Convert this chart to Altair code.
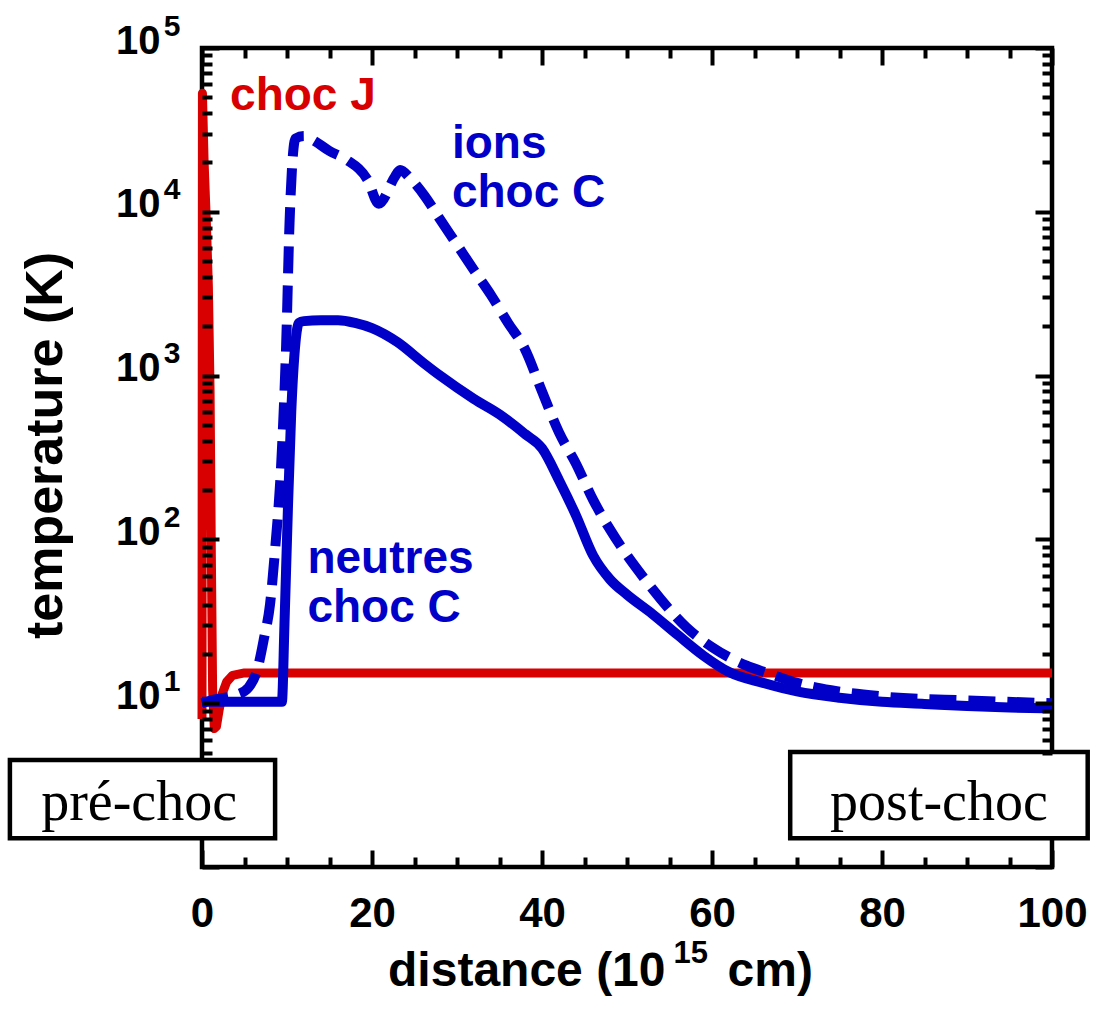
import altair as alt
import pandas as pd

RED = "#D80000"
BLUE = "#0000C8"
SANS = "Liberation Sans"
SERIF = "Liberation Serif"

# J-type shock: distance (1e15 cm) / temperature (K)
j_dist = [0, 0.05, 0.25, 0.5, 0.75, 0.95, 1.1, 1.25, 1.45, 1.7, 2.0, 2.4, 2.9, 3.6, 5.0, 100]
j_temp = [8, 53000, 20000, 9000, 3500, 800, 80, 12, 7, 7.2, 9, 11.5, 13.5, 14.8, 15.3, 15.3]

# C-type shock, neutral fluid
n_dist = [0, 9.4, 9.7, 10.1, 10.5, 11.0, 11.4, 12, 14, 16, 18, 20, 23, 26, 28, 32, 35, 38, 40,
          42, 44, 46, 48, 50, 53, 56, 59, 62, 66, 70, 75, 80, 85, 90, 95, 100]
n_temp = [10.2, 10.2, 30, 150, 600, 1600, 2100, 2150, 2180, 2180, 2100, 1950, 1600, 1200, 1000,
          720, 580, 440, 360, 230, 140, 80, 57, 46, 35, 26, 19.5, 15.5, 13.3, 11.8, 10.8, 10.2,
          9.9, 9.6, 9.4, 9.3]

# C-type shock, ion fluid
i_dist = [0, 1.3, 4.2, 5.5, 6.5, 7.3, 8.0, 8.6, 9.3, 9.9, 10.3, 11.0, 12, 13, 15, 17, 19.5,
          20.8, 22.7, 23.3, 24.5, 26.2, 28, 30, 32, 34, 36, 38, 40, 42, 44, 46, 48, 50, 52,
          54, 57, 60, 64, 67, 70, 74, 80, 90, 100]
i_temp = [10, 10.5, 11.3, 12.5, 16, 25, 40, 87, 277, 1540, 8600, 28000, 29000, 27500, 23500,
          20800, 15600, 11200, 16400, 18000, 16000, 12500, 9000, 6300, 4400, 3100, 2100, 1450,
          800, 450, 290, 175, 115, 80, 58, 43, 29, 22, 17, 15, 13.3, 12, 11, 10.4, 10]

# curve annotations (anchor = left end of the text baseline)
note_text = ["choc J", "ions", "choc C", "neutres", "choc C"]
note_dist = [3.3, 29.4, 29.4, 12.4, 12.4]
note_temp = [41800, 21300, 10700, 62, 31.3]
note_color = [RED, BLUE, BLUE, BLUE, BLUE]

# framed region labels
region_text = ["pré-choc", "post-choc"]
region_x1 = [-22.6, 69.2]
region_x2 = [8.6, 104.2]
region_t1 = [1.5, 1.5]
region_t2 = [4.5, 5.04]
region_xc = [-7.4, 86.7]
region_tb = [1.94, 1.94]

# axis ticks
x_major = [0, 20, 40, 60, 80, 100]
x_minor = [v for v in range(5, 100, 5) if v % 20]
y_major = [1, 10, 100, 1000, 10000, 100000]
y_labeled = [10, 100, 1000, 10000, 100000]
y_minor_all = [m * 10 ** k for k in range(0, 5) for m in range(2, 10)]
y_minor = [v for v in y_minor_all if v >= 5]  # the lowest ones sit under the region boxes

x_scale = alt.Scale(domain=[0, 100], nice=False, zero=False)
y_scale = alt.Scale(type="log", domain=[1, 100000], nice=False)


def curve_frame(d, t):
    return pd.DataFrame({"d": d, "t": t})


def xs(axis=None):
    return alt.X("d:Q", scale=x_scale, axis=axis)


def ys(axis=None):
    return alt.Y("t:Q", scale=y_scale, axis=axis)


def tick_axis(orient, values, length, **extra):
    return alt.Axis(orient=orient, values=values, offset=-length, tickSize=length,
                    tickWidth=4, tickColor="black", labels=False, domain=False,
                    grid=False, zindex=1, **extra)


TITLE_STYLE = dict(titleFont=SANS, titleFontWeight="bold", titleColor="black",
                   titleBaseline="alphabetic")

dummy = pd.DataFrame({"d": [50], "t": [10]})

# bottom axis: major ticks + labels, carries "distance (10"
x_bottom_major = alt.Axis(
    orient="bottom", values=x_major, offset=-17, tickSize=17, tickWidth=4,
    tickColor="black", domain=False, grid=False, labelFont=SANS, labelFontSize=42,
    labelFontWeight="bold", labelColor="black", labelPadding=26, labelFlush=False,
    labelOverlap=False, format="d",
    title="distance (10", titleFontSize=48, titleAlign="right", titleX=463, titleY=135,
    zindex=1, **TITLE_STYLE)

# bottom axis: minor ticks, carries the exponent "15"
x_bottom_minor = tick_axis("bottom", x_minor, 10, title="15", titleFontSize=31,
                           titleAlign="left", titleX=471, titleY=105, **TITLE_STYLE)

# title-only bottom axis carrying "cm)"
x_bottom_unit = alt.Axis(orient="bottom", values=x_major, ticks=False, tickSize=0,
                         labels=False, domain=False, grid=False, title="cm)",
                         titleFontSize=48, titleAlign="left", titleX=525, titleY=118,
                         zindex=1, **TITLE_STYLE)

y_left_tens = alt.Axis(
    orient="left", values=y_labeled, ticks=False, tickSize=0, domain=False, grid=False,
    labelExpr="'10'", labelFont=SANS, labelFontSize=40, labelFontWeight="bold",
    labelColor="black", labelPadding=42, labelOffset=-7, labelFlush=False,
    labelOverlap=False,
    title="temperature (K)", titleFont=SANS, titleFontSize=52, titleFontWeight="bold",
    titleColor="black", titleX=-157, titleY=397, titleAngle=-90, titleBaseline="middle",
    titleAlign="center", zindex=1)

y_left_exp = alt.Axis(
    orient="left", values=y_labeled, ticks=False, tickSize=0, domain=False, grid=False,
    labelExpr="'' + round(log(datum.value) / LN10)", labelFont=SANS, labelFontSize=30,
    labelFontWeight="bold", labelColor="black", labelPadding=22, labelOffset=-22,
    labelFlush=False, labelOverlap=False, title=None, zindex=1)

axis_layers = [
    alt.Chart(dummy).mark_point(opacity=0).encode(
        x=xs(x_bottom_major), y=ys(y_left_tens)),
    alt.Chart(dummy).mark_point(opacity=0).encode(
        x=xs(x_bottom_minor), y=ys(y_left_exp)),
    alt.Chart(dummy).mark_point(opacity=0).encode(
        x=xs(tick_axis("top", x_major, 17, title=None)),
        y=ys(tick_axis("left", y_major, 17, title=None))),
    alt.Chart(dummy).mark_point(opacity=0).encode(
        x=xs(tick_axis("top", x_minor, 10, title=None)),
        y=ys(tick_axis("left", y_minor, 10, title=None))),
    alt.Chart(dummy).mark_point(opacity=0).encode(
        x=xs(x_bottom_unit), y=ys(tick_axis("right", y_major, 17, title=None))),
    alt.Chart(dummy).mark_point(opacity=0).encode(
        x=xs(), y=ys(tick_axis("right", y_minor, 10, title=None))),
]

j_line = alt.Chart(curve_frame(j_dist, j_temp)).mark_line(
    color=RED, strokeWidth=9, strokeJoin="round", strokeCap="butt", clip=False
).encode(x=xs(), y=ys())

n_line = alt.Chart(curve_frame(n_dist, n_temp)).mark_line(
    color=BLUE, strokeWidth=10, strokeJoin="round", strokeCap="butt",
    interpolate="monotone", clip=False
).encode(x=xs(), y=ys())

i_line = alt.Chart(curve_frame(i_dist, i_temp)).mark_line(
    color=BLUE, strokeWidth=10, strokeJoin="miter", strokeCap="butt",
    strokeDash=[27, 12], interpolate="monotone", clip=False
).encode(x=xs(), y=ys())

notes = alt.Chart(pd.DataFrame({
    "label": note_text, "d": note_dist, "t": note_temp, "c": note_color
})).mark_text(font=SANS, fontSize=46, fontWeight="bold", align="left",
              baseline="alphabetic").encode(
    x=xs(), y=ys(), text="label:N", color=alt.Color("c:N", scale=None))

region_boxes = alt.Chart(pd.DataFrame({
    "x1": region_x1, "x2": region_x2, "t1": region_t1, "t2": region_t2
})).mark_rect(fill="white", stroke="black", strokeWidth=4.5).encode(
    x=alt.X("x1:Q", scale=x_scale, axis=None), x2="x2:Q",
    y=alt.Y("t1:Q", scale=y_scale, axis=None), y2="t2:Q")

region_labels = alt.Chart(pd.DataFrame({
    "label": region_text, "d": region_xc, "t": region_tb
})).mark_text(font=SERIF, fontSize=56, align="center", baseline="alphabetic",
              color="black").encode(x=xs(), y=ys(), text="label:N")

chart = alt.layer(
    *axis_layers, j_line, n_line, i_line, notes, region_boxes, region_labels
).resolve_axis(
    x="independent", y="independent"
).properties(
    width=850, height=819,
    autosize=alt.AutoSizeParams(type="none"),
    padding={"left": 202, "top": 48, "right": 52, "bottom": 144},
    background="white",
).configure_view(
    stroke="black", strokeWidth=4.5
)

chart.save("out.html", embed_options={"renderer": "svg", "actions": False})
